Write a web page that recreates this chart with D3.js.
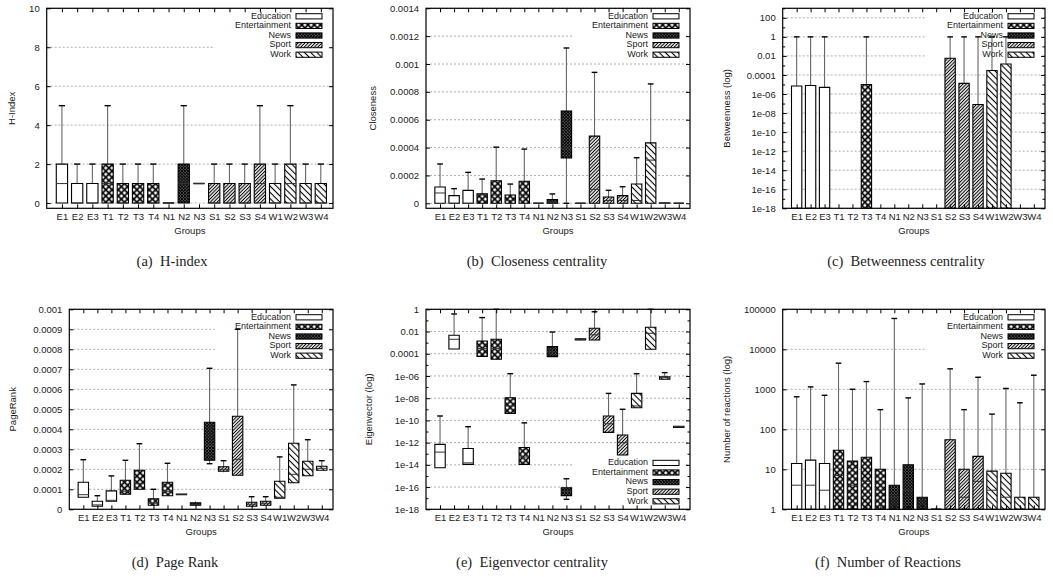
<!DOCTYPE html>
<html>
<head>
<meta charset="utf-8">
<script src="https://cdn.jsdelivr.net/npm/d3@7"></script>
<style>
  body { margin: 0; background: #fff; }
  text { font-family: 'Liberation Sans', Arial, sans-serif; fill: #222; }
  .caption { font-family: 'Liberation Serif', 'Times New Roman', serif; font-size: 14.5px; white-space: pre; }
</style>
</head>
<body>
<script>
// groups on the x axis and the category each belongs to
const groups = ['E1', 'E2', 'E3', 'T1', 'T2', 'T3', 'T4', 'N1', 'N2', 'N3', 'S1', 'S2', 'S3', 'S4', 'W1', 'W2', 'W3', 'W4'];
const categories = ['Education', 'Entertainment', 'News', 'Sport', 'Work'];
const groupCategory = [0, 0, 0, 1, 1, 1, 1, 2, 2, 2, 3, 3, 3, 3, 4, 4, 4, 4];

// each row: [whisker low, box low, median, box high, whisker high]; null = nothing drawn
const hIndex = [
  [0, 0, 1, 2, 5], [0, 0, 0, 1, 2], [0, 0, 0, 1, 2],
  [0, 0, 1, 2, 5], [0, 0, 0, 1, 2], [0, 0, 0, 1, 2], [0, 0, 0, 1, 2],
  [0, 0, 0, 0, 0], [0, 0, 1, 2, 5], [1, 1, 1, 1, 1],
  [0, 0, 0, 1, 2], [0, 0, 0, 1, 2], [0, 0, 0, 1, 2], [0, 0, 1, 2, 5],
  [0, 0, 0, 1, 2], [0, 0, 1, 2, 5], [0, 0, 0, 1, 2], [0, 0, 0, 1, 2]
];
const closeness = [
  [0, 0, 0.000074, 0.000117, 0.000282], [0, 0, 0, 0.000055, 0.000105], [0, 0, 0, 0.000093, 0.000222],
  [0, 0, 0.00006, 0.000069, 0.000174], [0, 0, 0.00006, 0.000162, 0.000403], [0, 0, 0.00002, 0.00006, 0.000138], [0, 0, 0.00006, 0.000158, 0.000389],
  [0, 0, 0, 0, 0], [0, 0, 0.00001, 0.000026, 0.000067], [0, 0.000325, 0.000391, 0.000663, 0.001115],
  [0, 0, 0, 0, 0], [0, 0, 0.0001, 0.000482, 0.00094], [0, 0, 0.00002, 0.000045, 0.000093], [0, 0, 0.00002, 0.000055, 0.000119],
  [0, 0, 0.00002, 0.000138, 0.000327], [0, 0, 0.00031, 0.000434, 0.000857], [0, 0.000001, 0.000002, 0.000003, 0.00001], [0, 0, 0, 0, 0]
];
const betweenness = [
  [0, 0, 0, 6.9e-6, 1], [0, 0, 0, 7.9e-6, 1], [0, 0, 0, 5e-6, 1],
  null, null, [0, 0, 0, 1e-5, 1], null,
  null, null, null,
  null, [0, 0, 0, 5.7e-3, 1], [0, 0, 0, 1.3e-5, 1], [0, 0, 0, 8e-8, 1],
  [0, 0, 0, 2.9e-4, 1], [0, 0, 0, 1.4e-3, 1], null, null
];
const pageRank = [
  [0.00006, 0.00006, 0.000073, 0.000135, 0.000248], [0.000015, 0.000015, 0.000022, 0.00004, 0.000068], [0.00004, 0.00004, 0.000045, 0.000092, 0.000167],
  [0.000075, 0.000075, 0.00009, 0.000145, 0.000245], [0.0001, 0.0001, 0.00013, 0.000195, 0.000328], [0.00002, 0.00002, 0.00003, 0.000053, 0.0001], [0.000068, 0.000068, 0.00009, 0.000135, 0.00023],
  [0.000073, 0.000073, 0.000075, 0.000076, 0.000076], [0.00002, 0.00002, 0.000025, 0.000032, 0.00004], [0.000228, 0.000245, 0.00032, 0.000435, 0.000705],
  [0.000185, 0.00019, 0.0002, 0.000213, 0.000243], [0.00017, 0.00017, 0.00025, 0.000465, 0.0009], [0.000015, 0.000015, 0.000025, 0.000035, 0.000063], [0.00002, 0.00002, 0.00003, 0.00004, 0.000063],
  [0.000055, 0.000055, 0.00006, 0.00014, 0.000262], [0.000133, 0.000133, 0.000175, 0.00033, 0.000622], [0.000168, 0.000168, 0.0002, 0.00024, 0.000348], [0.000195, 0.000195, 0.000205, 0.000215, 0.000243]
];
const eigenvector = [
  [5.5e-15, 5.5e-15, 1.4e-13, 6.9e-13, 2.5e-10], [2.7e-4, 2.7e-4, 2e-3, 4.6e-3, 0.38], [1.1e-14, 1.1e-14, 1.5e-14, 3e-13, 2.7e-11],
  [5.8e-5, 5.8e-5, 3e-4, 1.4e-3, 0.18], [3.2e-5, 3.2e-5, 3e-4, 2e-3, 1], [4.3e-10, 4.3e-10, 2e-9, 1.1e-8, 1.6e-6], [1.1e-14, 1.1e-14, 5e-14, 3.7e-13, 6e-11],
  null, [5.5e-5, 5.5e-5, 1.5e-4, 4.4e-4, 9e-3], [7.9e-18, 1.7e-17, 4e-17, 8.7e-17, 5.6e-16],
  [1.7e-3, 1.7e-3, 1.9e-3, 2.2e-3, 2.6e-3], [1.7e-3, 1.7e-3, 5e-3, 0.0195, 0.6], [8.3e-12, 8.3e-12, 5e-11, 2.5e-10, 2.7e-8], [7.6e-14, 7.6e-14, 1e-12, 4.8e-12, 1e-9],
  [1.4e-9, 1.4e-9, 2e-9, 2.7e-8, 1.6e-6], [2.5e-4, 2.5e-4, 6.9e-3, 0.024, 1], [5e-7, 5e-7, 7e-7, 8.5e-7, 2e-6], [2.3e-11, 2.3e-11, 2.6e-11, 3e-11, 3e-11]
];
const reactions = [
  [1, 1, 4, 14, 650], [1, 1, 4, 17, 1150], [1, 1, 3, 14, 710],
  [1, 1, 7, 30, 4500], [1, 1, 4, 16, 1000], [1, 1, 5, 20, 1560], [1, 1, 3, 10, 310],
  [1, 1, 2, 4, 59000], [1, 1, 3, 13, 610], [1, 1, 1, 2, 1360],
  [1, 1, 1, 1, 1.12], [1, 1, 3, 55, 3250], [1, 1, 2, 10, 310], [1, 1, 5, 21, 2000],
  [1, 1, 3, 9, 240], [1, 1, 2, 8, 1050], [1, 1, 1, 2, 460], [1, 1, 1, 2, 2250]
];

// y tick values and their labels
const hIndexTicks = [0, 2, 4, 6, 8, 10];
const hIndexTickLabels = ['0', '2', '4', '6', '8', '10'];
const closenessTicks = [0, 0.0002, 0.0004, 0.0006, 0.0008, 0.001, 0.0012, 0.0014];
const closenessTickLabels = ['0', '0.0002', '0.0004', '0.0006', '0.0008', '0.001', '0.0012', '0.0014'];
const betweennessTicks = [1e-18, 1e-16, 1e-14, 1e-12, 1e-10, 1e-8, 1e-6, 1e-4, 1e-2, 1, 100];
const betweennessTickLabels = ['1e-18', '1e-16', '1e-14', '1e-12', '1e-10', '1e-08', '1e-06', '0.0001', '0.01', '1', '100'];
const pageRankTicks = [0, 0.0001, 0.0002, 0.0003, 0.0004, 0.0005, 0.0006, 0.0007, 0.0008, 0.0009, 0.001];
const pageRankTickLabels = ['0', '0.0001', '0.0002', '0.0003', '0.0004', '0.0005', '0.0006', '0.0007', '0.0008', '0.0009', '0.001'];
const eigenvectorTicks = [1e-18, 1e-16, 1e-14, 1e-12, 1e-10, 1e-8, 1e-6, 1e-4, 1e-2, 1];
const eigenvectorTickLabels = ['1e-18', '1e-16', '1e-14', '1e-12', '1e-10', '1e-08', '1e-06', '0.0001', '0.01', '1'];
const reactionsTicks = [1, 10, 100, 1000, 10000, 100000];
const reactionsTickLabels = ['1', '10', '100', '1000', '10000', '100000'];

const panels = [
  { data: hIndex, log: false, domain: [-0.27, 10], ticks: hIndexTicks, tickLabels: hIndexTickLabels,
    left: 46.7, right: 333, top: 8.3, bottom: 208.3, ylabel: 'H-Index', ylabelX: 12,
    caption: '(a)  H-index', captionX: 172, legend: 'top' },
  { data: closeness, log: false, domain: [-0.000036, 0.0014], ticks: closenessTicks, tickLabels: closenessTickLabels,
    left: 426, right: 690, top: 8.3, bottom: 208.3, ylabel: 'Closeness', ylabelX: 373,
    caption: '(b)  Closeness centrality', captionX: 537, legend: 'top' },
  { data: betweenness, log: true, domain: [1e-18, 1e3], ticks: betweennessTicks, tickLabels: betweennessTickLabels,
    left: 782.7, right: 1045, top: 8.3, bottom: 208.3, ylabel: 'Betweenness (log)', ylabelX: 727,
    caption: '(c)  Betweenness centrality', captionX: 906, legend: 'top', minor: true },
  { data: pageRank, log: false, domain: [0, 0.001], ticks: pageRankTicks, tickLabels: pageRankTickLabels,
    left: 69.3, right: 333, top: 309.3, bottom: 509.3, ylabel: 'PageRank', ylabelX: 13,
    caption: '(d)  Page Rank', captionX: 175, legend: 'top' },
  { data: eigenvector, log: true, domain: [1e-18, 1], ticks: eigenvectorTicks, tickLabels: eigenvectorTickLabels,
    left: 426, right: 690, top: 309.3, bottom: 509.3, ylabel: 'Eigenvector (log)', ylabelX: 369,
    caption: '(e)  Eigenvector centrality', captionX: 532, legend: 'bottom', minor: true },
  { data: reactions, log: true, domain: [1, 100000], ticks: reactionsTicks, tickLabels: reactionsTickLabels,
    left: 782.7, right: 1045, top: 309.3, bottom: 509.3, ylabel: 'Number of reactions (log)', ylabelX: 727,
    caption: '(f)  Number of Reactions', captionX: 888, legend: 'top' }
];

const svg = d3.select('body').append('svg')
  .attr('width', 1053)
  .attr('height', 577);

// fill patterns, one per category
const defs = svg.append('defs');
function hatch(id, size, rotate, lines, width, bg) {
  const p = defs.append('pattern')
    .attr('id', id)
    .attr('patternUnits', 'userSpaceOnUse')
    .attr('width', size).attr('height', size)
    .attr('patternTransform', `rotate(${rotate})`);
  p.append('rect').attr('width', size).attr('height', size).attr('fill', bg);
  if (lines.includes('v')) p.append('line').attr('x1', size / 2).attr('x2', size / 2).attr('y1', 0).attr('y2', size)
    .attr('stroke', '#000').attr('stroke-width', width);
  if (lines.includes('h')) p.append('line').attr('y1', size / 2).attr('y2', size / 2).attr('x1', 0).attr('x2', size)
    .attr('stroke', '#000').attr('stroke-width', width);
}
hatch('pat-ent', 4.4, 45, 'vh', 1.7, '#fff');
hatch('pat-news', 2.2, 45, 'vh', 1.0, '#777');
hatch('pat-sport', 2.4, 45, 'v', 0.9, '#e4e4e4');
hatch('pat-work', 4.4, -45, 'v', 1.1, '#fff');
const fills = ['#fff', 'url(#pat-ent)', 'url(#pat-news)', 'url(#pat-sport)', 'url(#pat-work)'];

function drawPanel(p) {
  const g = svg.append('g');

  const x = d3.scaleLinear().domain([0, 18.8]).range([p.left, p.right]);
  const y = (p.log ? d3.scaleLog() : d3.scaleLinear())
    .domain(p.domain)
    .range([p.bottom, p.top])
    .clamp(true);
  const yv = (v) => y(p.log && v <= 0 ? p.domain[0] : v);
  const bw = (x(1) - x(0)) * 0.74;
  const capW = bw * 0.55;

  // grid lines
  g.selectAll('.grid').data(p.ticks).join('line')
    .attr('class', 'grid')
    .attr('x1', p.left).attr('x2', p.right)
    .attr('y1', (d) => y(d)).attr('y2', (d) => y(d))
    .attr('stroke', '#999')
    .attr('stroke-width', 0.8)
    .attr('stroke-dasharray', '2,2');

  // legend background hides the grid behind it
  const legTop = p.legend === 'top' ? p.top + 1 : p.bottom - 53;
  g.append('rect')
    .attr('x', p.right - 118).attr('y', legTop)
    .attr('width', 114).attr('height', 52)
    .attr('fill', '#fff');

  const rows = p.data.map((d, i) => ({ d, i })).filter((r) => r.d);

  // whiskers
  g.selectAll('.whisker').data(rows).join('line')
    .attr('x1', (r) => x(r.i + 1)).attr('x2', (r) => x(r.i + 1))
    .attr('y1', (r) => yv(r.d[0])).attr('y2', (r) => yv(r.d[4]))
    .attr('stroke', '#666')
    .attr('stroke-width', 1.1);

  // boxes (paths so that flat boxes still show)
  g.selectAll('.box').data(rows).join('path')
    .attr('d', (r) => {
      const x0 = x(r.i + 1) - bw / 2;
      const x1 = x(r.i + 1) + bw / 2;
      const y0 = yv(r.d[1]);
      const y1 = yv(r.d[3]);
      return `M${x0},${y0}H${x1}V${y1}H${x0}Z`;
    })
    .attr('fill', (r) => fills[groupCategory[r.i]])
    .attr('stroke', '#000')
    .attr('stroke-width', (r) => (r.d[1] === r.d[3] ? 1.6 : 1.1));

  // medians
  g.selectAll('.median').data(rows).join('line')
    .attr('x1', (r) => x(r.i + 1) - bw / 2).attr('x2', (r) => x(r.i + 1) + bw / 2)
    .attr('y1', (r) => yv(r.d[2])).attr('y2', (r) => yv(r.d[2]))
    .attr('stroke', '#333')
    .attr('stroke-width', 1);

  // whisker caps
  const caps = [];
  rows.forEach((r) => {
    if (yv(r.d[3]) - yv(r.d[4]) > 2.5) caps.push({ i: r.i, v: r.d[4] });
    if (yv(r.d[0]) - yv(r.d[1]) > 2.5) caps.push({ i: r.i, v: r.d[0] });
  });
  g.selectAll('.cap').data(caps).join('line')
    .attr('x1', (c) => x(c.i + 1) - capW / 2).attr('x2', (c) => x(c.i + 1) + capW / 2)
    .attr('y1', (c) => yv(c.v)).attr('y2', (c) => yv(c.v))
    .attr('stroke', '#000')
    .attr('stroke-width', 1.4);

  // axes, ticks pointing inward on all four sides
  const styleAxis = (sel) => {
    sel.select('.domain').remove();
    sel.selectAll('line').attr('stroke', '#000');
    sel.selectAll('text').attr('font-size', 9.5).attr('fill', '#222')
      .attr('font-family', "'Liberation Sans', Arial, sans-serif");
  };
  g.append('g')
    .attr('transform', `translate(${p.left},0)`)
    .call(d3.axisLeft(y).tickValues(p.ticks).tickFormat((d, i) => p.tickLabels[i]).tickSize(-4).tickPadding(7))
    .call(styleAxis);
  g.append('g')
    .attr('transform', `translate(${p.right},0)`)
    .call(d3.axisRight(y).tickValues(p.ticks).tickFormat('').tickSize(-4))
    .call(styleAxis);
  if (p.minor) {
    const lo = Math.log10(p.domain[0]);
    const hi = Math.log10(p.domain[1]);
    const minorTicks = d3.range(lo, hi + 1).map((e) => Math.pow(10, e)).filter((v) => !p.ticks.includes(v));
    g.append('g')
      .attr('transform', `translate(${p.left},0)`)
      .call(d3.axisLeft(y).tickValues(minorTicks).tickFormat('').tickSize(-2.5))
      .call(styleAxis);
    g.append('g')
      .attr('transform', `translate(${p.right},0)`)
      .call(d3.axisRight(y).tickValues(minorTicks).tickFormat('').tickSize(-2.5))
      .call(styleAxis);
  }
  g.append('g')
    .attr('transform', `translate(0,${p.bottom})`)
    .call(d3.axisBottom(x).tickValues(d3.range(1, 19)).tickFormat((d, i) => groups[i]).tickSize(-4).tickPadding(5))
    .call(styleAxis);
  g.append('g')
    .attr('transform', `translate(0,${p.top})`)
    .call(d3.axisTop(x).tickValues(d3.range(1, 19)).tickFormat('').tickSize(-4))
    .call(styleAxis);

  // frame
  g.append('rect')
    .attr('x', p.left).attr('y', p.top)
    .attr('width', p.right - p.left).attr('height', p.bottom - p.top)
    .attr('fill', 'none')
    .attr('stroke', '#000')
    .attr('stroke-width', 1.2);

  // legend
  categories.forEach((c, i) => {
    const ly = p.legend === 'top' ? p.top + 8 + i * 9.6 : p.bottom - 8 - (4 - i) * 9.6;
    g.append('text')
      .attr('x', p.right - 42).attr('y', ly)
      .attr('text-anchor', 'end')
      .attr('dominant-baseline', 'middle')
      .attr('font-size', 9)
      .text(c);
    g.append('rect')
      .attr('x', p.right - 37).attr('y', ly - 2.6)
      .attr('width', 26).attr('height', 5.2)
      .attr('fill', fills[i])
      .attr('stroke', '#000')
      .attr('stroke-width', 1);
  });

  // axis titles and caption
  g.append('text')
    .attr('transform', `translate(${p.ylabelX},${(p.top + p.bottom) / 2}) rotate(-90)`)
    .attr('text-anchor', 'middle')
    .attr('dominant-baseline', 'middle')
    .attr('font-size', 9.5)
    .text(p.ylabel);
  g.append('text')
    .attr('x', (p.left + p.right) / 2).attr('y', p.bottom + 23)
    .attr('text-anchor', 'middle')
    .attr('dominant-baseline', 'middle')
    .attr('font-size', 9.5)
    .text('Groups');
  g.append('text')
    .attr('class', 'caption')
    .attr('x', p.captionX).attr('y', p.bottom + 54)
    .attr('text-anchor', 'middle')
    .attr('dominant-baseline', 'middle')
    .text(p.caption);
}

panels.forEach(drawPanel);
</script>
</body>
</html>
